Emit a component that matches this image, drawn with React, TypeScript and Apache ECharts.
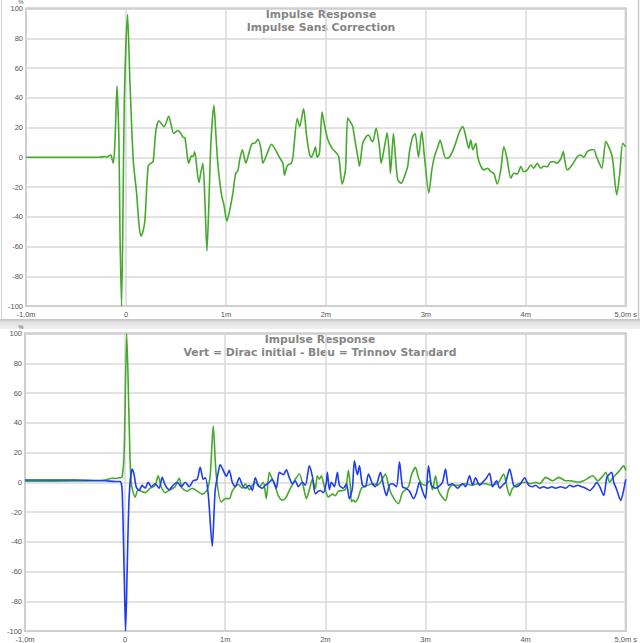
import React, { useEffect, useRef } from "react";
import * as echarts from "echarts";

// x in ms, y in %
const topGreen: [number, number][] = [
  [-1.0, 0], [-0.5, 0], [-0.26, 0], [-0.21, 0.5], [-0.19, 0], [-0.17, 1], [-0.15, 1.5], [-0.14, -1],
  [-0.127, -4], [-0.11, 10], [-0.09, 48], [-0.07, 10], [-0.06, -50], [-0.044, -100], [-0.03, -40],
  [-0.016, 40], [0.016, 96], [0.04, 50], [0.073, -2], [0.106, -24], [0.13, -45], [0.149, -53],
  [0.17, -50], [0.19, -42], [0.222, -6], [0.25, -4], [0.272, -3], [0.3, 18], [0.33, 24.5], [0.36, 22],
  [0.38, 20.5], [0.428, 27.5], [0.478, 16], [0.518, 18], [0.55, 16], [0.572, 13.4], [0.59, 13],
  [0.615, 0], [0.628, -4], [0.655, 1], [0.67, 0.5], [0.688, 3.6], [0.71, -8], [0.73, -17], [0.75, -10],
  [0.77, -4], [0.79, -30], [0.81, -63], [0.83, -30], [0.85, 10], [0.88, 35], [0.9, 15], [0.92, -5],
  [0.955, -25], [0.98, -32], [1.01, -43], [1.04, -35], [1.07, -24], [1.097, -11], [1.12, -9],
  [1.137, -2], [1.164, 5], [1.2, -4], [1.227, 2], [1.26, 9], [1.29, 9.5], [1.32, 12], [1.35, 6],
  [1.37, -4], [1.41, 2], [1.455, 8.7], [1.505, 4], [1.535, 0], [1.57, -4], [1.586, -12], [1.61, -6],
  [1.626, -5], [1.654, -4], [1.67, 0], [1.714, 26], [1.737, 20.6], [1.777, 32.5], [1.806, 15],
  [1.836, 2], [1.856, 0], [1.876, 3], [1.896, 7], [1.913, 0], [1.936, 2.7], [1.962, 30.4], [1.985, 22],
  [2.019, 12], [2.063, 6], [2.103, 3], [2.129, 0.4], [2.163, -18], [2.196, -8.5], [2.219, 26.6],
  [2.253, 22.8], [2.269, 20.6], [2.296, 9.4], [2.319, 0.4], [2.336, -6], [2.369, 9.4], [2.403, 13.8],
  [2.426, 15], [2.453, 11.6], [2.469, 10.5], [2.503, 19.5], [2.536, 7], [2.553, -4], [2.586, 7],
  [2.613, 16.5], [2.636, 0.4], [2.646, -10.8], [2.676, 16], [2.696, 0], [2.719, -15], [2.753, -17.5],
  [2.786, -13], [2.819, -6], [2.836, 3.8], [2.869, 13.8], [2.893, 16], [2.926, 0], [2.959, 17.2],
  [2.986, 0.4], [3.03, -24], [3.06, -8.5], [3.086, 0.4], [3.12, 7], [3.143, 11.6], [3.17, 5],
  [3.2, -0.7], [3.236, 0], [3.286, 7], [3.33, 16], [3.37, 20.6], [3.4, 13.8], [3.43, 6], [3.45, 11.6],
  [3.47, 5], [3.5, 9.4], [3.52, 0], [3.55, -6], [3.58, -8.5], [3.62, -7.4], [3.65, -9.7], [3.68, -10.8],
  [3.715, -18], [3.75, -8.5], [3.78, 7], [3.81, 0], [3.85, -14], [3.88, -10.8], [3.915, -11.2],
  [3.95, -6.3], [3.98, -9.7], [4.015, -8.5], [4.05, -5.2], [4.08, -7.4], [4.115, -4], [4.15, -7.4],
  [4.18, -6], [4.215, -6.3], [4.25, -3], [4.28, -3], [4.31, -4], [4.35, -1], [4.375, 3.8], [4.39, -2],
  [4.415, -8.5], [4.465, -5], [4.515, 0.4], [4.55, 1.5], [4.58, 0], [4.615, 3.8], [4.66, 5], [4.68, 5],
  [4.71, 0], [4.76, -7.4], [4.8, 10.5], [4.83, 7], [4.865, 0.4], [4.91, -25.3], [4.94, -10.8],
  [4.97, 9.4], [5.0, 7],
];

const bottomGreen: [number, number][] = [
  [-1.0, 0.7], [-0.5, 0.8], [-0.3, 1], [-0.2, 1.5], [-0.13, 2.7], [-0.1, 2.5], [-0.05, 3], [-0.03, 3.5],
  [-0.01, 20], [0.016, 100], [0.04, 40], [0.06, 0], [0.1, -10], [0.13, -5], [0.16, -6], [0.2, -7],
  [0.25, -4], [0.3, -2], [0.33, 4.4], [0.36, -3], [0.4, -7], [0.45, -5], [0.5, -3], [0.54, 2.7],
  [0.57, -4], [0.62, -6], [0.67, -4], [0.72, -6], [0.77, -8], [0.82, -5], [0.85, 5], [0.88, 37.7],
  [0.91, 5], [0.96, -13.3], [1.0, -11], [1.04, -11], [1.07, -6], [1.1, -3], [1.13, -1.5], [1.17, -4],
  [1.2, -1], [1.24, -5], [1.27, -2], [1.3, 0], [1.34, -3], [1.38, 0], [1.41, -11], [1.44, 6.7],
  [1.47, 2], [1.5, -3], [1.53, -9], [1.57, -12], [1.6, -11], [1.63, -7], [1.66, -3], [1.7, 2],
  [1.74, 5.5], [1.78, -3], [1.81, -11], [1.84, -5], [1.87, 2], [1.9, -4.4], [1.92, 4.4], [1.94, 2],
  [1.96, 4.4], [1.99, -3], [2.03, -10], [2.07, -8], [2.1, -9], [2.13, -6], [2.2, -5], [2.23, 8],
  [2.25, -3], [2.26, -13], [2.28, -12], [2.3, -13.3], [2.33, -10], [2.36, -4], [2.42, -2], [2.48, -1],
  [2.52, -2], [2.56, 1], [2.6, 5.5], [2.63, -2], [2.66, -8], [2.73, -14.4], [2.77, -7], [2.83, -3],
  [2.86, 5], [2.9, 10], [2.93, 3], [2.96, -1], [3.0, -2], [3.04, 1], [3.07, -5], [3.1, 4.4], [3.13, -6],
  [3.2, -12.2], [3.23, -5], [3.27, -2], [3.33, -2], [3.4, -1], [3.46, -2], [3.52, -1], [3.6, -1],
  [3.66, -2], [3.73, 0], [3.78, 5.5], [3.81, -2], [3.84, -9], [3.87, -4], [3.93, -1], [4.0, 0],
  [4.05, -1], [4.1, 0], [4.14, -1], [4.2, 3.3], [4.27, 1], [4.33, 3.3], [4.4, 1], [4.45, 1], [4.52, 0],
  [4.58, 1], [4.63, 3], [4.67, 4.4], [4.72, 1], [4.77, 4], [4.8, 6.7], [4.84, 0], [4.87, 3], [4.9, 5],
  [4.94, 8], [4.98, 11], [5.0, 8],
];

const bottomBlue: [number, number][] = [
  [-1.0, 1.5], [-0.5, 1.5], [-0.2, 1], [-0.1, 0.5], [-0.05, 0.5], [-0.03, -5], [-0.01, -60],
  [0.005, -100], [0.02, -60], [0.04, -10], [0.07, 8.9], [0.09, 5], [0.11, -3], [0.14, -5.5], [0.17, -2],
  [0.2, -4], [0.23, 0], [0.26, -3], [0.3, -1], [0.34, -4], [0.37, 3.3], [0.4, -2], [0.44, -5], [0.48, -2],
  [0.52, 0], [0.56, -3], [0.6, 0], [0.64, -3], [0.68, 1], [0.72, 2], [0.75, 10], [0.78, 2], [0.8, 3],
  [0.83, -8], [0.87, -43], [0.9, -5], [0.94, 10], [0.95, 11.8], [0.98, 8], [1.01, 4], [1.04, 8],
  [1.07, 0], [1.1, -3], [1.14, 3], [1.17, -2], [1.2, -4], [1.24, -2], [1.27, -5.5], [1.3, 3], [1.33, -2],
  [1.37, -4], [1.4, -2], [1.44, 0], [1.47, 2], [1.51, -4], [1.54, 6.7], [1.58, 5], [1.61, 8.4],
  [1.64, 3], [1.67, -1], [1.7, 1], [1.73, -3], [1.77, 0], [1.8, -2], [1.84, 11], [1.87, 4], [1.9, -7.7],
  [1.93, -6], [1.95, -5.5], [1.98, -7], [2.01, 0], [2.02, 6.7], [2.04, -5], [2.06, 0], [2.09, -3],
  [2.12, 6.7], [2.14, -2], [2.18, -4], [2.21, -1], [2.24, -11], [2.27, -4], [2.29, 14.4], [2.32, 5],
  [2.34, 11], [2.37, -2], [2.4, -3], [2.43, 5.5], [2.47, -1], [2.5, -3], [2.55, 6.7], [2.58, -2],
  [2.61, -9], [2.64, -2], [2.67, -1], [2.71, -3], [2.74, 13.8], [2.77, -3], [2.8, -4], [2.84, -6],
  [2.88, -11], [2.91, -7], [2.94, 0], [2.97, -6], [3.0, -11], [3.03, 11], [3.06, -2], [3.1, -4],
  [3.13, -3], [3.17, 0], [3.2, 8.9], [3.23, -2], [3.27, -1], [3.32, -4], [3.37, -1], [3.4, -3],
  [3.44, 4.4], [3.47, -2], [3.5, 3], [3.54, -2], [3.57, 0], [3.6, 2], [3.64, 6], [3.67, -3], [3.71, 1],
  [3.74, -4], [3.77, -2], [3.8, 0], [3.84, 8.9], [3.88, -2], [3.91, -3], [3.95, -1], [3.99, 3],
  [4.03, -2], [4.07, -3], [4.1, -2], [4.14, -4], [4.18, -3], [4.22, -4], [4.26, -3], [4.3, -4],
  [4.35, -3], [4.4, -4], [4.44, -2], [4.48, -3], [4.52, -2], [4.56, -3], [4.6, -4], [4.64, -5.5],
  [4.68, -3], [4.71, 0], [4.74, -3], [4.78, -8.9], [4.81, 3], [4.83, 5], [4.86, 6.7], [4.88, 0],
  [4.91, -5], [4.95, -12.2], [4.97, -8], [5.0, 2],
];

const xTicks = [-1, 0, 1, 2, 3, 4, 5];
const xTickLabels = ["-1,0m", "0", "1m", "2m", "3m", "4m", "5,0m s"];
const topTitle = ["Impulse Response", "Impulse Sans Correction"];
const bottomTitle = ["Impulse Response", "Vert = Dirac initial - Bleu = Trinnov Standard"];

const GREEN = "#45aa2c";
const BLUE = "#1f3cf0";
const LABEL_FONT = "'Liberation Sans', Arial, sans-serif";
const TITLE_FONT = "'DejaVu Sans', Verdana, sans-serif";

export default function App() {
  const ref = useRef<HTMLDivElement>(null);
  useEffect(() => {
    document.body.style.margin = "0";
    const chart = echarts.init(ref.current!, undefined, { renderer: "svg" });
    const xLabel = (v: number) => {
      const i = xTicks.indexOf(v);
      return i >= 0 ? xTickLabels[i] : "";
    };
    const mkX = (gridIndex: number) => ({
      type: "value" as const,
      gridIndex,
      min: -1,
      max: 5,
      interval: 1,
      axisLine: { show: false },
      axisTick: { show: false },
      splitLine: { show: true, lineStyle: { color: "#d8d8d8", width: 1.5 } },
      axisLabel: { formatter: xLabel, fontSize: 7.5, color: "#555", margin: 4, fontFamily: LABEL_FONT },
    });
    const mkY = (gridIndex: number) => ({
      type: "value" as const,
      gridIndex,
      min: -100,
      max: 100,
      interval: 20,
      axisLine: { show: false },
      axisTick: { show: false },
      splitLine: { show: true, lineStyle: { color: "#d8d8d8", width: 1.5 } },
      axisLabel: { fontSize: 7.5, color: "#555", margin: 3, fontFamily: LABEL_FONT },
    });
    const titleStyle = {
      fill: "#858585",
      fontSize: 10.8,
      fontWeight: "bold",
      fontFamily: TITLE_FONT,
      align: "center",
      verticalAlign: "middle",
    };
    const pctStyle = { text: "%", fontSize: 6, fill: "#555", align: "center", verticalAlign: "middle", fontFamily: LABEL_FONT };
    chart.setOption({
      animation: false,
      backgroundColor: "#ffffff",
      grid: [
        { left: 26, top: 8.5, width: 601, height: 297.5, show: true, borderColor: "#b5b5b5", borderWidth: 2, backgroundColor: "transparent" },
        { left: 25, top: 333.5, width: 602, height: 300, show: true, borderColor: "#b5b5b5", borderWidth: 2, backgroundColor: "transparent" },
      ],
      xAxis: [mkX(0), mkX(1)],
      yAxis: [mkY(0), mkY(1)],
      series: [
        {
          type: "line", xAxisIndex: 0, yAxisIndex: 0, data: topGreen, showSymbol: false, smooth: 0.25,
          lineStyle: { color: GREEN, width: 1.6 }, itemStyle: { color: GREEN },
        },
        {
          type: "line", xAxisIndex: 1, yAxisIndex: 1, data: bottomGreen, showSymbol: false, smooth: 0.25,
          lineStyle: { color: GREEN, width: 1.6 }, itemStyle: { color: GREEN },
        },
        {
          type: "line", xAxisIndex: 1, yAxisIndex: 1, data: bottomBlue, showSymbol: false, smooth: 0.25,
          lineStyle: { color: BLUE, width: 1.6 }, itemStyle: { color: BLUE },
        },
      ],
      graphic: [
        { type: "rect", z: -10, shape: { x: 0, y: 319, width: 640, height: 10 },
          style: { fill: new echarts.graphic.LinearGradient(0, 0, 0, 1, [
            { offset: 0, color: "#c4c4c4" }, { offset: 0.35, color: "#e2e2e2" }, { offset: 1, color: "#f0f0f0" },
          ]) } },
        { type: "line", z: -5, shape: { x1: 1.5, y1: 0, x2: 1.5, y2: 319 }, style: { stroke: "#d0d0d0", lineWidth: 1 } },
        { type: "line", z: -5, shape: { x1: 638.5, y1: 0, x2: 638.5, y2: 319 }, style: { stroke: "#c8c8c8", lineWidth: 1.5 } },
        { type: "text", x: 21, y: 1.5, style: { ...pctStyle } },
        { type: "text", x: 21, y: 326.5, style: { ...pctStyle } },
        { type: "text", x: 321, y: 14.5, style: { ...titleStyle, text: topTitle[0] } },
        { type: "text", x: 321, y: 27, style: { ...titleStyle, text: topTitle[1] } },
        { type: "text", x: 320, y: 339.5, style: { ...titleStyle, text: bottomTitle[0] } },
        { type: "text", x: 320, y: 352, style: { ...titleStyle, text: bottomTitle[1] } },
      ],
    });
    return () => chart.dispose();
  }, []);
  return <div ref={ref} style={{ position: "fixed", left: 0, top: 0, width: 640, height: 643 }} />;
}
